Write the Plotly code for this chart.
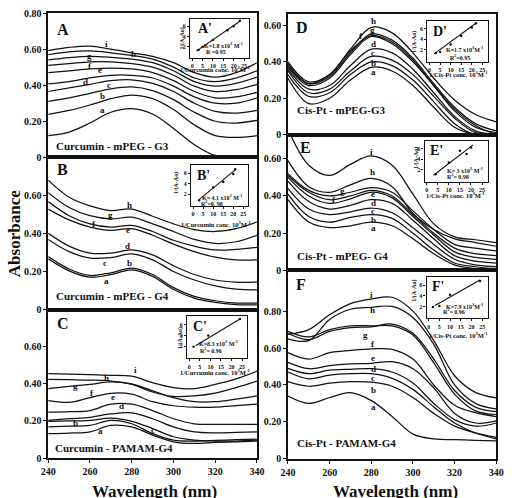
import plotly.graph_objects as go

W, H = 512, 498
SERIF = "Liberation Serif"
INK = "#111111"

# ---------------- data ----------------
wavelength = [240, 250, 260, 270, 280, 290, 300, 310, 320, 330, 340]

# Panel A : Curcumin - mPEG - G3  (bottom -> top)
A_a  = [0.120, 0.140, 0.190, 0.250, 0.270, 0.240, 0.160, 0.070, 0.010, 0.000, 0.005]
A_b  = [0.238, 0.260, 0.290, 0.325, 0.345, 0.325, 0.265, 0.180, 0.120, 0.110, 0.120]
A_c  = [0.310, 0.330, 0.355, 0.380, 0.390, 0.370, 0.320, 0.250, 0.200, 0.190, 0.205]
A_d  = [0.365, 0.385, 0.405, 0.425, 0.430, 0.410, 0.365, 0.300, 0.255, 0.245, 0.260]
A_e  = [0.407, 0.420, 0.440, 0.455, 0.455, 0.440, 0.395, 0.335, 0.300, 0.300, 0.330]
A_f  = [0.470, 0.480, 0.490, 0.495, 0.490, 0.470, 0.425, 0.365, 0.330, 0.335, 0.360]
A_g  = [0.510, 0.520, 0.530, 0.530, 0.520, 0.500, 0.455, 0.395, 0.365, 0.375, 0.405]
A_h  = [0.540, 0.553, 0.560, 0.555, 0.545, 0.525, 0.480, 0.420, 0.395, 0.410, 0.445]
A_h2 = [0.569, 0.585, 0.590, 0.580, 0.565, 0.545, 0.500, 0.440, 0.420, 0.440, 0.480]
A_i  = [0.592, 0.610, 0.617, 0.600, 0.580, 0.560, 0.525, 0.470, 0.445, 0.470, 0.525]

# Panel B : Curcumin - mPEG - G4
B_a = [0.266, 0.203, 0.170, 0.183, 0.208, 0.174, 0.105, 0.060, 0.037, 0.026, 0.024]
B_b = [0.278, 0.213, 0.179, 0.193, 0.218, 0.184, 0.115, 0.069, 0.046, 0.034, 0.034]
B_c = [0.368, 0.304, 0.270, 0.273, 0.292, 0.261, 0.200, 0.155, 0.124, 0.107, 0.103]
B_d = [0.400, 0.333, 0.296, 0.296, 0.313, 0.287, 0.230, 0.184, 0.155, 0.144, 0.144]
B_e = [0.528, 0.471, 0.433, 0.416, 0.425, 0.390, 0.344, 0.304, 0.275, 0.261, 0.261]
B_f = [0.567, 0.493, 0.450, 0.433, 0.442, 0.410, 0.364, 0.333, 0.313, 0.316, 0.327]
B_g = [0.614, 0.536, 0.493, 0.476, 0.485, 0.450, 0.410, 0.368, 0.347, 0.356, 0.390]
B_h = [0.680, 0.590, 0.545, 0.520, 0.528, 0.490, 0.450, 0.420, 0.410, 0.425, 0.460]

# Panel C : Curcumin - PAMAM-G4
C_a = [0.132, 0.135, 0.141, 0.176, 0.168, 0.124, 0.088, 0.079, 0.085, 0.088, 0.092]
C_b = [0.168, 0.172, 0.176, 0.203, 0.185, 0.132, 0.097, 0.092, 0.095, 0.099, 0.102]
C_c = [0.198, 0.200, 0.203, 0.215, 0.198, 0.159, 0.115, 0.097, 0.092, 0.092, 0.097]
C_d = [0.203, 0.212, 0.220, 0.238, 0.244, 0.212, 0.168, 0.141, 0.136, 0.138, 0.141]
C_e = [0.247, 0.250, 0.256, 0.291, 0.291, 0.256, 0.212, 0.185, 0.182, 0.182, 0.182]
C_f = [0.309, 0.300, 0.326, 0.349, 0.344, 0.304, 0.282, 0.274, 0.274, 0.282, 0.291]
C_g = [0.374, 0.386, 0.397, 0.410, 0.400, 0.362, 0.326, 0.304, 0.304, 0.318, 0.335]
C_h = [0.424, 0.422, 0.420, 0.415, 0.397, 0.356, 0.332, 0.335, 0.350, 0.380, 0.415]
C_i = [0.455, 0.452, 0.450, 0.446, 0.441, 0.406, 0.380, 0.374, 0.397, 0.427, 0.468]

# Panel D : Cis-Pt - mPEG-G3
D_a = [0.310, 0.170, 0.200, 0.300, 0.370, 0.350, 0.270, 0.150, 0.040, 0.000, 0.000]
D_b = [0.330, 0.210, 0.230, 0.330, 0.400, 0.380, 0.300, 0.180, 0.060, 0.000, 0.000]
D_c = [0.350, 0.230, 0.250, 0.350, 0.430, 0.410, 0.330, 0.210, 0.090, 0.010, 0.000]
D_d = [0.360, 0.250, 0.270, 0.380, 0.470, 0.450, 0.360, 0.230, 0.100, 0.020, 0.000]
D_e = [0.370, 0.270, 0.310, 0.440, 0.540, 0.500, 0.400, 0.270, 0.140, 0.050, 0.000]
D_f = [0.380, 0.280, 0.330, 0.460, 0.545, 0.510, 0.410, 0.270, 0.130, 0.040, 0.010]
D_g = [0.390, 0.280, 0.320, 0.450, 0.555, 0.520, 0.420, 0.280, 0.150, 0.060, 0.020]
D_h = [0.400, 0.290, 0.330, 0.470, 0.590, 0.560, 0.450, 0.310, 0.190, 0.110, 0.070]

# Panel E : Cis-Pt - mPEG- G4
E_a = [0.380, 0.260, 0.230, 0.240, 0.260, 0.240, 0.170, 0.090, 0.030, 0.010, 0.000]
E_b = [0.410, 0.290, 0.260, 0.285, 0.300, 0.280, 0.200, 0.110, 0.040, 0.020, 0.010]
E_c = [0.440, 0.330, 0.300, 0.315, 0.335, 0.310, 0.230, 0.140, 0.060, 0.030, 0.020]
E_d = [0.480, 0.370, 0.330, 0.350, 0.380, 0.360, 0.270, 0.170, 0.080, 0.050, 0.040]
E_e = [0.500, 0.400, 0.360, 0.385, 0.420, 0.390, 0.290, 0.190, 0.100, 0.070, 0.060]
E_f = [0.510, 0.420, 0.380, 0.400, 0.430, 0.400, 0.300, 0.200, 0.120, 0.090, 0.080]
E_g = [0.520, 0.430, 0.400, 0.420, 0.445, 0.420, 0.320, 0.220, 0.140, 0.120, 0.105]
E_h = [0.590, 0.450, 0.420, 0.460, 0.494, 0.450, 0.306, 0.220, 0.170, 0.150, 0.130]
E_i = [0.760, 0.565, 0.510, 0.570, 0.615, 0.565, 0.410, 0.250, 0.180, 0.165, 0.150]

# Panel F : Cis-Pt - PAMAM-G4
F_a  = [0.340, 0.300, 0.332, 0.358, 0.315, 0.229, 0.134, 0.108, 0.104, 0.100, 0.097]
F_b  = [0.418, 0.393, 0.410, 0.418, 0.415, 0.393, 0.332, 0.246, 0.177, 0.140, 0.116]
F_c  = [0.470, 0.433, 0.453, 0.461, 0.461, 0.436, 0.376, 0.281, 0.194, 0.140, 0.108]
F_d  = [0.490, 0.461, 0.480, 0.485, 0.488, 0.470, 0.410, 0.300, 0.212, 0.177, 0.194]
F_e  = [0.522, 0.488, 0.505, 0.514, 0.517, 0.526, 0.488, 0.384, 0.246, 0.194, 0.205]
F_f  = [0.575, 0.540, 0.575, 0.587, 0.595, 0.593, 0.540, 0.400, 0.290, 0.250, 0.229]
F_g  = [0.680, 0.645, 0.690, 0.710, 0.715, 0.730, 0.680, 0.540, 0.370, 0.280, 0.255]
F_g2 = [0.690, 0.660, 0.700, 0.720, 0.720, 0.720, 0.670, 0.520, 0.350, 0.260, 0.240]
F_h  = [0.650, 0.640, 0.755, 0.810, 0.820, 0.825, 0.765, 0.620, 0.400, 0.300, 0.270]
F_i  = [0.675, 0.700, 0.780, 0.840, 0.865, 0.875, 0.800, 0.640, 0.450, 0.360, 0.330]

# curve-letter label positions (wavelength, absorbance)
A_lab = [("i", 268, 0.628), ("h", 281, 0.574), ("g", 260, 0.563), ("f", 260, 0.509),
         ("e", 265, 0.482), ("d", 258, 0.417), ("c", 269, 0.401), ("b", 266, 0.341), ("a", 266, 0.262)]
B_lab = [("h", 279, 0.549), ("g", 270, 0.497), ("f", 262, 0.447), ("e", 278, 0.416),
         ("d", 278, 0.334), ("c", 267, 0.242), ("b", 279, 0.242), ("a", 268, 0.151)]
C_lab = [("i", 282, 0.473), ("h", 268, 0.432), ("g", 253, 0.388), ("f", 261, 0.352),
         ("e", 271, 0.330), ("d", 275, 0.283), ("c", 290, 0.154), ("b", 253, 0.190), ("a", 265, 0.145)]
D_lab = [("h", 281, 0.627), ("g", 280.5, 0.577), ("f", 275, 0.540), ("d", 281, 0.497),
         ("c", 281, 0.449), ("b", 281, 0.392), ("a", 281, 0.343)]
E_lab = [("i", 280, 0.637), ("h", 280.5, 0.528), ("g", 266, 0.425), ("f", 262, 0.380),
         ("e", 281, 0.410), ("d", 281, 0.360), ("c", 281, 0.322), ("b", 281, 0.272), ("a", 281, 0.226)]
F_lab = [("i", 280, 0.888), ("h", 280.5, 0.805), ("g", 277, 0.670), ("f", 281, 0.623),
         ("e", 281, 0.545), ("d", 281, 0.488), ("c", 281, 0.436), ("b", 281, 0.374), ("a", 281, 0.280)]

# insets: 1/[drug] vs 1/(A-A0)
Ap_x = [3, 5, 10, 17, 20, 23];     Ap_y = [1.3, 1.9, 3.3, 5.2, 6.0, 7.1]
Bp_x = [3, 10, 15, 20, 21];        Bp_y = [0.9, 3.3, 4.3, 5.8, 6.7]
Cp_x = [2, 9, 24];                 Cp_y = [1.9, 4.0, 7.0]
Dp_x = [3, 5, 10, 15, 20, 22];     Dp_y = [1.4, 1.6, 3.0, 4.6, 6.2, 7.0]
Ep_x = [4, 10, 15, 18, 20];        Ep_y = [1.2, 3.4, 5.6, 5.0, 6.2]
Fp_x = [2, 5, 10, 24];             Fp_y = [1.9, 2.1, 4.2, 6.8]
Af_x = [2, 23]; Af_y = [1.1, 7.0]
Bf_x = [3, 21]; Bf_y = [1.0, 6.6]
Cf_x = [3, 24]; Cf_y = [2.1, 7.0]
Df_x = [2, 22]; Df_y = [1.2, 7.0]
Ef_x = [3, 21]; Ef_y = [1.0, 6.7]
Ff_x = [3, 24]; Ff_y = [2.2, 7.0]

inset_xticks = [0, 5, 10, 15, 20, 25]
inset_yticks = [2, 4, 6]

# ---------------- helpers ----------------
def px(x):
    return x / W

def py(y):
    return 1 - y / H

fig = go.Figure()
annots = []

L_X = (41.5, 257)
R_X = (289, 504)
panels = [
    (1, L_X, (7.3, 155), 0.8, [A_a, A_b, A_c, A_d, A_e, A_f, A_g, A_h, A_h2, A_i], A_lab,
     "A", "Curcumin - mPEG - G3", [0, 0.2, 0.4, 0.6, 0.8], False, (48, 24), (47, 143)),
    (2, L_X, (155, 311), 0.8, [B_a, B_b, B_c, B_d, B_e, B_f, B_g, B_h], B_lab,
     "B", "Curcumin - mPEG - G4", [0, 0.2, 0.4, 0.6], False, (48, 168), (47, 297)),
    (3, L_X, (311, 463.3), 0.8, [C_a, C_b, C_c, C_d, C_e, C_f, C_g, C_h, C_i], C_lab,
     "C", "Curcumin - PAMAM-G4", [0, 0.2, 0.4, 0.6], True, (48, 325), (46, 453)),
    (4, R_X, (8, 131.7), 0.665, [D_a, D_b, D_c, D_d, D_e, D_f, D_g, D_h], D_lab,
     "D", "Cis-Pt - mPEG-G3", [0, 0.2, 0.4, 0.6], False, (295, 22), (296, 107)),
    (5, R_X, (131.7, 271), 0.73, [E_a, E_b, E_c, E_d, E_e, E_f, E_g, E_h, E_i], E_lab,
     "E", "Cis-Pt - mPEG- G4", [0, 0.2, 0.4, 0.6], False, (299, 145), (296, 256)),
    (6, R_X, (271, 464), 1.02, [F_a, F_b, F_c, F_d, F_e, F_f, F_g, F_g2, F_h, F_i], F_lab,
     "F", "Cis-Pt - PAMAM-G4", [0, 0.2, 0.4, 0.6, 0.8], True, (295, 285), (296, 448)),
]

def tick_txt(v):
    return "0" if v == 0 else f"{v:.2f}"

layout_axes = {}
for (n, xd, yd, ytop, curves, labs, letter, title, yt, showx, lpos, tpos) in panels:
    xs = "" if n == 1 else str(n)
    for c in curves:
        fig.add_trace(go.Scatter(x=wavelength, y=c, mode="lines", xaxis="x" + xs, yaxis="y" + xs,
                                 line=dict(color=INK, width=1.25, shape="spline", smoothing=1.0),
                                 showlegend=False, hoverinfo="skip"))
    layout_axes["xaxis" + xs] = dict(
        domain=[px(xd[0]), px(xd[1])], range=[240, 340], anchor="y" + xs,
        showline=True, mirror=True, linecolor=INK, linewidth=1.6, showgrid=False, zeroline=False,
        ticks="outside" if showx else "", ticklen=3, tickwidth=1.2, tickcolor=INK,
        tickvals=[240, 260, 280, 300, 320, 340], showticklabels=showx,
        tickfont=dict(family=SERIF, size=10, color=INK, weight="bold"))
    layout_axes["yaxis" + xs] = dict(
        domain=[py(yd[1]), py(yd[0])], range=[0, ytop], anchor="x" + xs,
        showline=True, mirror=True, linecolor=INK, linewidth=1.6, showgrid=False, zeroline=False,
        ticks="outside", ticklen=3, tickwidth=1.2, tickcolor=INK,
        tickvals=yt, ticktext=[tick_txt(v) for v in yt],
        tickfont=dict(family=SERIF, size=10, color=INK, weight="bold"))
    for (t, lx, ly) in labs:
        annots.append(dict(x=lx, y=ly, xref="x" + xs, yref="y" + xs, text=t, showarrow=False,
                           font=dict(family=SERIF, size=9, color=INK, weight="bold"),
                           xanchor="center", yanchor="middle"))
    annots.append(dict(x=px(lpos[0]), y=py(lpos[1]), xref="paper", yref="paper", text=letter,
                       showarrow=False, xanchor="left", yanchor="middle",
                       font=dict(family=SERIF, size=16, color=INK, weight="bold")))
    annots.append(dict(x=px(tpos[0]), y=py(tpos[1]), xref="paper", yref="paper", text=title,
                       showarrow=False, xanchor="left", yanchor="middle",
                       font=dict(family=SERIF, size=11, color=INK, weight="bold")))

insets = [
    (7, (188, 249), (13, 53), (Ap_x, Ap_y), (Af_x, Af_y), "A'", (194, 23),
     "K=1.8 x10<sup>3</sup> M<sup>-1</sup>", (222, 40), "R =0.95", (215, 47.5), (180, 33),
     "1/Curcumin conc. 10<sup>3</sup>M<sup>-1</sup>", (214, 65)),
    (8, (189, 248), (163, 205), (Bp_x, Bp_y), (Bf_x, Bf_y), "B'", (193, 174),
     "K= 4.1 x10<sup>3</sup> M<sup>-1</sup>", (221, 196), "R<sup>2</sup>=0. 98", (211, 202), (174, 182),
     "1/Curcumin conc. 10<sup>3</sup>M<sup>-1</sup>", (215, 223)),
    (9, (185, 247), (318, 361), (Cp_x, Cp_y), (Cf_x, Cf_y), "C'", (189, 328),
     "K=8.3 x10<sup>3</sup> M<sup>-1</sup>", (217, 345), "R<sup>2</sup>= 0.96", (210, 353), (178, 340),
     "1/Curcumin conc. 10<sup>3</sup>M<sup>-1</sup>", (214, 375)),
    (10, (433, 495), (15, 57), (Dp_x, Dp_y), (Df_x, Df_y), "D'", (437, 26),
     "K=1.7 x10<sup>3</sup>M<sup>-1</sup>", (471, 44), "R<sup>2</sup>=0.95", (467, 52), (419, 37),
     "1/Cis-Pt conc. 10<sup>3</sup>M<sup>-1</sup>", (465, 70)),
    (11, (430, 495), (138, 180), (Ep_x, Ep_y), (Ef_x, Ef_y), "E'", (434, 148),
     "K= 3 x10<sup>3</sup> M<sup>-1</sup>", (472, 168), "R<sup>2</sup>= 0.98", (464, 174), (421, 156),
     "1/Cis-Pt conc. 10<sup>3</sup>M<sup>-1</sup>", (462, 194)),
    (12, (432, 495), (278, 320), (Fp_x, Fp_y), (Ff_x, Ff_y), "F'", (436, 287),
     "K=7.9 x10<sup>3</sup>M<sup>-1</sup>", (471, 307), "R<sup>2</sup>= 0.96", (460, 313), (420, 292),
     "1/Cis-Pt conc. 10<sup>3</sup>M<sup>-1</sup>", (465, 337)),
]

small = dict(family=SERIF, size=6, color=INK, weight="bold")
for (n, bx, by, pts, fit, letter, lpos, ktxt, kpos, rtxt, rpos, ytpos, xtitle, xtpos) in insets:
    xs = str(n)
    fig.add_trace(go.Scatter(x=fit[0], y=fit[1], mode="lines", xaxis="x" + xs, yaxis="y" + xs,
                             line=dict(color=INK, width=1.1), showlegend=False, hoverinfo="skip"))
    fig.add_trace(go.Scatter(x=pts[0], y=pts[1], mode="markers", xaxis="x" + xs, yaxis="y" + xs,
                             marker=dict(color=INK, size=2.5), showlegend=False, hoverinfo="skip"))
    layout_axes["xaxis" + xs] = dict(
        domain=[px(bx[0]), px(bx[1])], range=[-1, 27.5], anchor="y" + xs,
        showline=True, mirror=True, linecolor=INK, linewidth=1.3, showgrid=False, zeroline=False,
        ticks="outside", ticklen=2, tickwidth=1, tickcolor=INK, tickvals=inset_xticks,
        tickfont=small)
    layout_axes["yaxis" + xs] = dict(
        domain=[py(by[1]), py(by[0])], range=[-0.2, 7.5], anchor="x" + xs,
        showline=True, mirror=True, linecolor=INK, linewidth=1.3, showgrid=False, zeroline=False,
        ticks="outside", ticklen=2, tickwidth=1, tickcolor=INK, tickvals=inset_yticks,
        tickfont=small)
    annots.append(dict(x=px(lpos[0]), y=py(lpos[1]), xref="paper", yref="paper", text=letter,
                       showarrow=False, xanchor="left", yanchor="middle",
                       font=dict(family=SERIF, size=14, color=INK, weight="bold")))
    for (t, p) in [(ktxt, kpos), (rtxt, rpos)]:
        annots.append(dict(x=px(p[0]), y=py(p[1]), xref="paper", yref="paper", text=t,
                           showarrow=False, xanchor="center", yanchor="middle",
                           font=dict(family=SERIF, size=6, color=INK, weight="bold")))
    annots.append(dict(x=px(ytpos[0]), y=py(ytpos[1]), xref="paper", yref="paper", text="1/(A-Ao)",
                       showarrow=False, textangle=-90, xanchor="center", yanchor="middle",
                       font=dict(family=SERIF, size=6, color=INK, weight="bold")))
    annots.append(dict(x=px(xtpos[0]), y=py(xtpos[1]), xref="paper", yref="paper", text=xtitle,
                       showarrow=False, xanchor="center", yanchor="middle",
                       font=dict(family=SERIF, size=6.5, color=INK, weight="bold")))

# global axis titles
annots.append(dict(x=px(7), y=py(233), xref="paper", yref="paper", text="Absorbance",
                   showarrow=False, textangle=-90, xanchor="center", yanchor="middle",
                   font=dict(family=SERIF, size=17, color=INK, weight="bold")))
for cx in (151, 400):
    annots.append(dict(x=px(cx), y=py(486), xref="paper", yref="paper", text="Wavelength (nm)",
                       showarrow=False, xanchor="center", yanchor="top",
                       font=dict(family=SERIF, size=17, color=INK, weight="bold")))

fig.update_layout(width=W, height=H, autosize=False, margin=dict(l=0, r=0, t=0, b=0),
                  paper_bgcolor="white", plot_bgcolor="white", showlegend=False,
                  annotations=annots, **layout_axes)

fig.write_html("out.html")
